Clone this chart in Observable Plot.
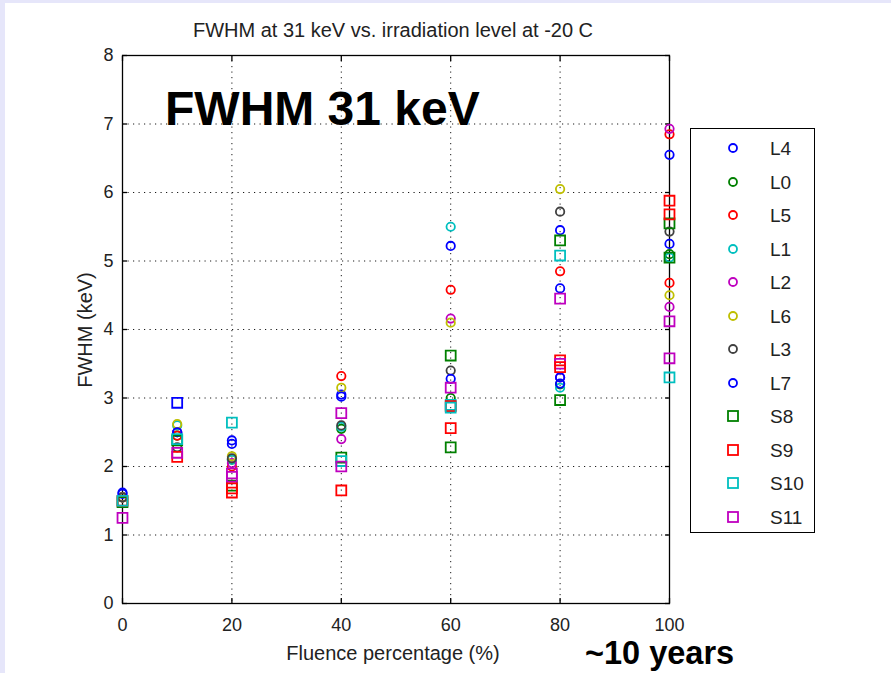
<!DOCTYPE html>
<html>
<head>
<meta charset="utf-8">
<script src="https://cdn.jsdelivr.net/npm/d3@7"></script>
<script src="https://cdn.jsdelivr.net/npm/@observablehq/plot@0.6"></script>
<style>
  body { margin: 0; background: #fff; }
  #wrap { position: relative; width: 891px; height: 673px; overflow: hidden; background: #fff;
          font-family: "Liberation Sans", Arial, Helvetica, sans-serif; }
  .band-top { position: absolute; left: 0; top: 0; width: 891px; height: 3px; background: #e6e6fa; }
  .band-left { position: absolute; left: 0; top: 0; width: 5px; height: 673px; background: #e6e6fa; }
  #chart { position: absolute; left: 0; top: 0; }
  .title { position: absolute; left: 0; width: 786px; top: 20px; text-align: center; font-size: 20px; line-height: 1; color: #222; }
  .xlabel { position: absolute; left: 0; width: 786px; top: 643px; text-align: center; font-size: 20px; line-height: 1; color: #222; }
  .ylabel { position: absolute; left: -15px; width: 200px; top: 320px; text-align: center; font-size: 20px; line-height: 20px; color: #222;
            transform: rotate(-90deg); transform-origin: 100px 10px; }
  .big { position: absolute; left: 165px; top: 85px; font-size: 48px; font-weight: bold; line-height: 1; color: #000; }
  .years { position: absolute; left: 585px; top: 637px; font-size: 32.5px; font-weight: bold; line-height: 1; color: #000; }
  #legend { position: absolute; left: 690px; top: 128px; width: 123px; height: 403px; border: 1px solid #000; background: #fff; }
  .li { position: absolute; left: 0; height: 20px; width: 123px; }
  .li svg { position: absolute; left: 32px; top: 0; }
  .li span { position: absolute; left: 79px; top: 1px; font-size: 19px; line-height: 19px; color: #222; }
</style>
</head>
<body>
<div id="wrap">
  <div id="chart"></div>
  <div class="band-top"></div>
  <div class="band-left"></div>
  <div class="title">FWHM at 31 keV vs. irradiation level at -20 C</div>
  <div class="xlabel">Fluence percentage (%)</div>
  <div class="ylabel">FWHM (keV)</div>
  <div class="big">FWHM 31 keV</div>
  <div class="years">~10 years</div>
  <div id="legend"></div>
</div>
<script>
// ---- data ----
const fluence = [0, 10, 20, 40, 60, 80, 100];
const xTicks = [0, 20, 40, 60, 80, 100];
const yTicks = [0, 1, 2, 3, 4, 5, 6, 7, 8];

const seriesNames = ["L4", "L0", "L5", "L1", "L2", "L6", "L3", "L7", "S8", "S9", "S10", "S11"];
const seriesColors = ["#0000ff", "#008000", "#ff0000", "#00bfbf", "#bf00bf", "#bfbf00", "#404040", "#0000ff", "#008000", "#ff0000", "#00bfbf", "#bf00bf"];
const seriesShapes = ["circle", "circle", "circle", "circle", "circle", "circle", "circle", "circle", "square", "square", "square", "square"];

const L4  = [1.62, 2.50, 2.38, 3.05, 5.22, 5.45, 6.55];
const L0  = [1.55, 2.45, 2.10, 2.55, 3.00, 3.20, 5.10];
const L5  = [1.55, 2.45, 2.00, 3.32, 4.58, 4.85, 6.85];
const L1  = [1.55, 2.60, 2.10, 2.58, 5.50, 3.15, 5.05];
const L2  = [1.55, 2.50, 2.05, 2.40, 4.16, 3.30, 6.93];
const L6  = [1.55, 2.62, 2.15, 3.15, 4.10, 6.05, 4.50];
const L3  = [1.55, 2.28, 2.12, 2.60, 3.40, 5.72, 5.43];
const L7  = [1.60, 2.50, 2.33, 3.02, 3.28, 4.60, 5.25];
const S8  = [1.48, 2.38, 1.72, 2.13, 3.62, 5.30, 5.55];
const S9  = [1.50, 2.14, 1.62, 1.65, 2.56, 3.55, 5.88];
const S10 = [1.50, 2.40, 2.64, 2.08, 2.90, 5.08, 3.30];
const S11 = [1.25, 2.20, 1.90, 2.00, 3.15, 4.45, 4.12];
const seriesValues = [L4, L0, L5, L1, L2, L6, L3, L7, S8, S9, S10, S11];

// extra (repeat) measurements not listed in the legend
const extraSeries = ["S7", "L5", "L2", "S11", "S11", "S11", "S11", "S9", "S9", "S9", "S9", "S8", "S8", "S8", "L4", "L7", "S10"];
const extraX      = [10, 100, 100, 20, 40, 80, 100, 20, 60, 80, 100, 60, 80, 100, 80, 80, 60];
const extraY      = [2.93, 4.68, 4.33, 1.85, 2.78, 3.50, 3.58, 1.68, 2.88, 3.45, 5.68, 2.28, 2.97, 5.05, 3.30, 3.21, 2.86];
const hiddenName = "S7", hiddenColor = "#0000ff", hiddenShape = "square";

// ---- build table ----
const colorOf = new Map(seriesNames.map((n, i) => [n, seriesColors[i]]));
const shapeOf = new Map(seriesNames.map((n, i) => [n, seriesShapes[i]]));
colorOf.set(hiddenName, hiddenColor); shapeOf.set(hiddenName, hiddenShape);

const rows = [];
seriesNames.forEach((name, i) => {
  fluence.forEach((f, j) => rows.push({series: name, x: f, y: seriesValues[i][j]}));
});
extraSeries.forEach((name, k) => rows.push({series: name, x: extraX[k], y: extraY[k]}));

const circles = rows.filter(d => shapeOf.get(d.series) === "circle");
const squares = rows.filter(d => shapeOf.get(d.series) === "square");
const colorDomain = [...colorOf.keys()];
const colorRange = colorDomain.map(n => colorOf.get(n));

const font = '"Liberation Sans", Arial, Helvetica, sans-serif';

const chart = Plot.plot({
  width: 891, height: 673,
  marginLeft: 122, marginRight: 222, marginTop: 55, marginBottom: 70,
  style: {fontFamily: font, fontSize: "18px", color: "#222", background: "transparent"},
  x: {domain: [0, 100]},
  y: {domain: [0, 8]},
  color: {domain: colorDomain, range: colorRange},
  marks: [
    Plot.gridX({ticks: xTicks, stroke: "#000", strokeOpacity: 0.9, strokeDasharray: "1.2,4.3"}),
    Plot.gridY({ticks: yTicks, stroke: "#000", strokeOpacity: 0.9, strokeDasharray: "1.2,4.3"}),
    Plot.axisX({ticks: xTicks, tickSize: -5, tickPadding: 20, label: null, stroke: "#000", strokeWidth: 1.3}),
    Plot.axisX({anchor: "top", ticks: xTicks, tickSize: -5, tickFormat: () => "", label: null, stroke: "#000", strokeWidth: 1.3}),
    Plot.axisY({ticks: yTicks, tickSize: -5, tickPadding: 14, label: null, stroke: "#000", strokeWidth: 1.3}),
    Plot.axisY({anchor: "right", ticks: yTicks, tickSize: -5, tickFormat: () => "", label: null, stroke: "#000", strokeWidth: 1.3}),
    Plot.frame({stroke: "#000", strokeWidth: 1.3}),
    Plot.dot(circles, {x: "x", y: "y", stroke: "series", symbol: "circle", r: 4.2, strokeWidth: 1.8, fill: "none"}),
    Plot.dot(squares, {x: "x", y: "y", stroke: "series", symbol: "square", r: 5.6, strokeWidth: 1.8, fill: "none"})
  ]
});
document.getElementById("chart").appendChild(chart);

// ---- legend ----
const legend = document.getElementById("legend");
seriesNames.forEach((name, i) => {
  const item = document.createElement("div");
  item.className = "li";
  item.style.top = (9 + i * 33.5) + "px";
  const shape = seriesShapes[i] === "circle"
    ? `<circle cx="10" cy="10" r="4" fill="none" stroke="${seriesColors[i]}" stroke-width="1.8"/>`
    : `<rect x="5" y="5" width="10" height="10" fill="none" stroke="${seriesColors[i]}" stroke-width="1.8"/>`;
  item.innerHTML = `<svg width="20" height="20">${shape}</svg><span>${name}</span>`;
  legend.appendChild(item);
});
</script>
</body>
</html>
